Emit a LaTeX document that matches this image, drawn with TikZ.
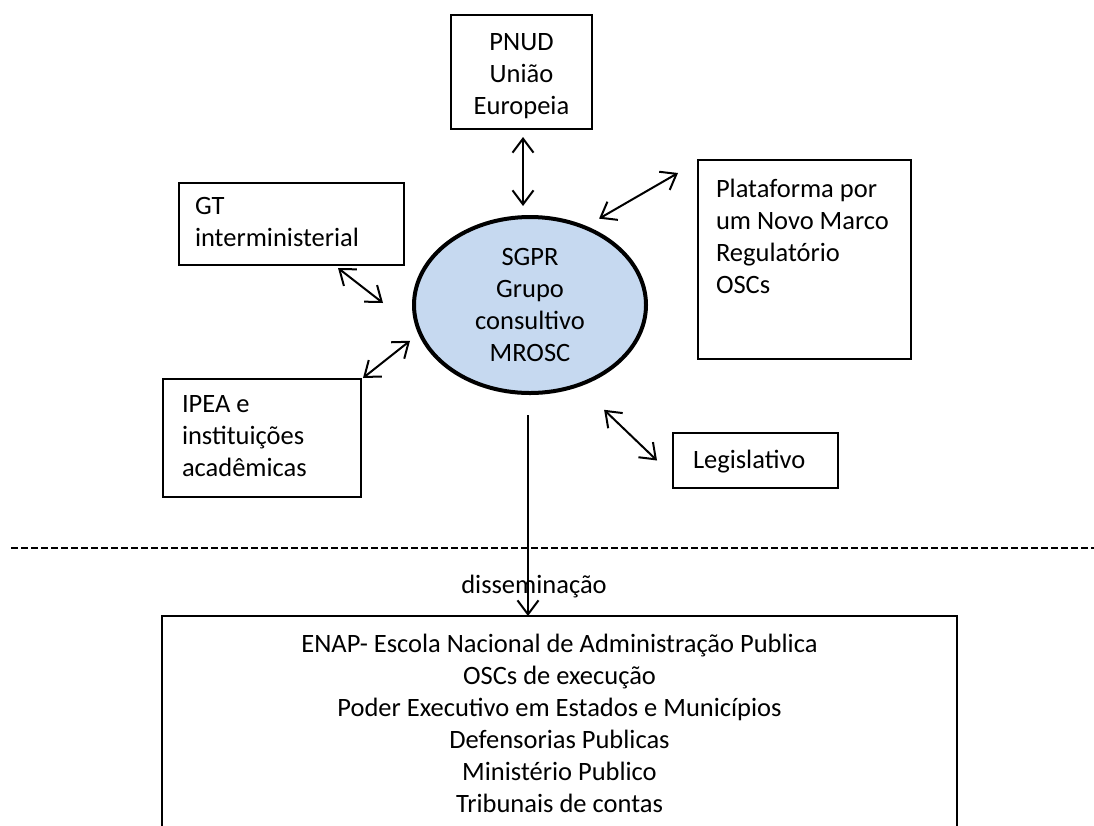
\documentclass[tikz,border=0pt]{standalone}
\usepackage{fontspec}
\setmainfont{Carlito}
\usetikzlibrary{shapes.geometric, arrows.meta}

\definecolor{sgprblue}{RGB}{198,217,240}

\begin{document}
\begin{tikzpicture}[x=1pt, y=-1pt, every node/.style={font=\fontsize{26.5}{32}\selectfont}]

  \tikzstyle{box} = [rectangle, draw=black, line width=2pt, inner sep=0pt, outer sep=0pt, anchor=north west]
  \tikzstyle{leftbox} = [box, align=flush left]
  \tikzstyle{centerbox} = [box, align=flush center]
  \tikzstyle{arrow} = [line width=2pt, ->, >={Straight Barb[length=14pt,width=21pt]}]
  \tikzstyle{dblarrow} = [arrow, <->]
  \tikzstyle{separator} = [line width=2.5pt, dash pattern=on 7pt off 3pt]

  \useasboundingbox (0,0) rectangle (1094,825);

  \node (sgpr) [ellipse, draw=black, line width=4pt, fill=sgprblue, minimum width=232pt, minimum height=176pt, inner sep=0pt, align=center] at (530,305) {SGPR\\Grupo\\consultivo\\MROSC};

  \node (pnud) [centerbox, text width=141pt, text height=35pt, text depth=79pt] at (451,15) {PNUD\\União\\Europeia};
  \node (gt) [leftbox, inner xsep=16pt, text width=193pt, text height=31pt, text depth=51pt] at (179,183) {GT\\interministerial};
  \node (ipea) [leftbox, inner xsep=19pt, text width=160pt, text height=33pt, text depth=85pt] at (163,379) {IPEA e\\instituições\\acadêmicas};
  \node (plataforma) [leftbox, inner xsep=18pt, text width=177pt, text height=37pt, text depth=162pt] at (698,160) {Plataforma por\\um Novo Marco\\Regulatório\\OSCs};
  \node (legislativo) [leftbox, inner xsep=20pt, text width=125pt, text height=35pt, text depth=20pt] at (673,433) {Legislativo};

  \draw [dblarrow] ([xshift=1.5pt,yshift=-8pt]pnud.south) -- ([xshift=-7pt,yshift=9pt]sgpr.north);
  \draw [dblarrow] ([xshift=13.5pt,yshift=7pt]sgpr.55) -- ([xshift=-20pt,yshift=-13pt]plataforma.north west);
  \draw [dblarrow] ([xshift=-66pt,yshift=-3pt]gt.south east) -- ([xshift=-29pt,yshift=2pt]sgpr.west);
  \draw [dblarrow] ([xshift=2pt,yshift=1pt]ipea.north east) -- ([xshift=-13.5pt,yshift=3pt]sgpr.200);
  \draw [dblarrow] ([xshift=10.5pt,yshift=-29pt]sgpr.310) -- ([xshift=-16pt]legislativo.west);

  \draw [separator] (11,548) -- (1094,548);

  \node (orgaos) [centerbox, text width=795pt, text height=36pt, text depth=234pt] at (162,616) {ENAP- Escola Nacional de Administração Publica\\OSCs de execução\\Poder Executivo em Estados e Municípios\\Defensorias Publicas\\Ministério Publico\\Tribunais de contas};

  \draw [arrow] ([xshift=-2pt,yshift=-20pt]sgpr.south) -- node[pos=0.887, anchor=base, xshift=6pt] {disseminação} ([xshift=-31.5pt]orgaos.north);

\end{tikzpicture}
\end{document}
